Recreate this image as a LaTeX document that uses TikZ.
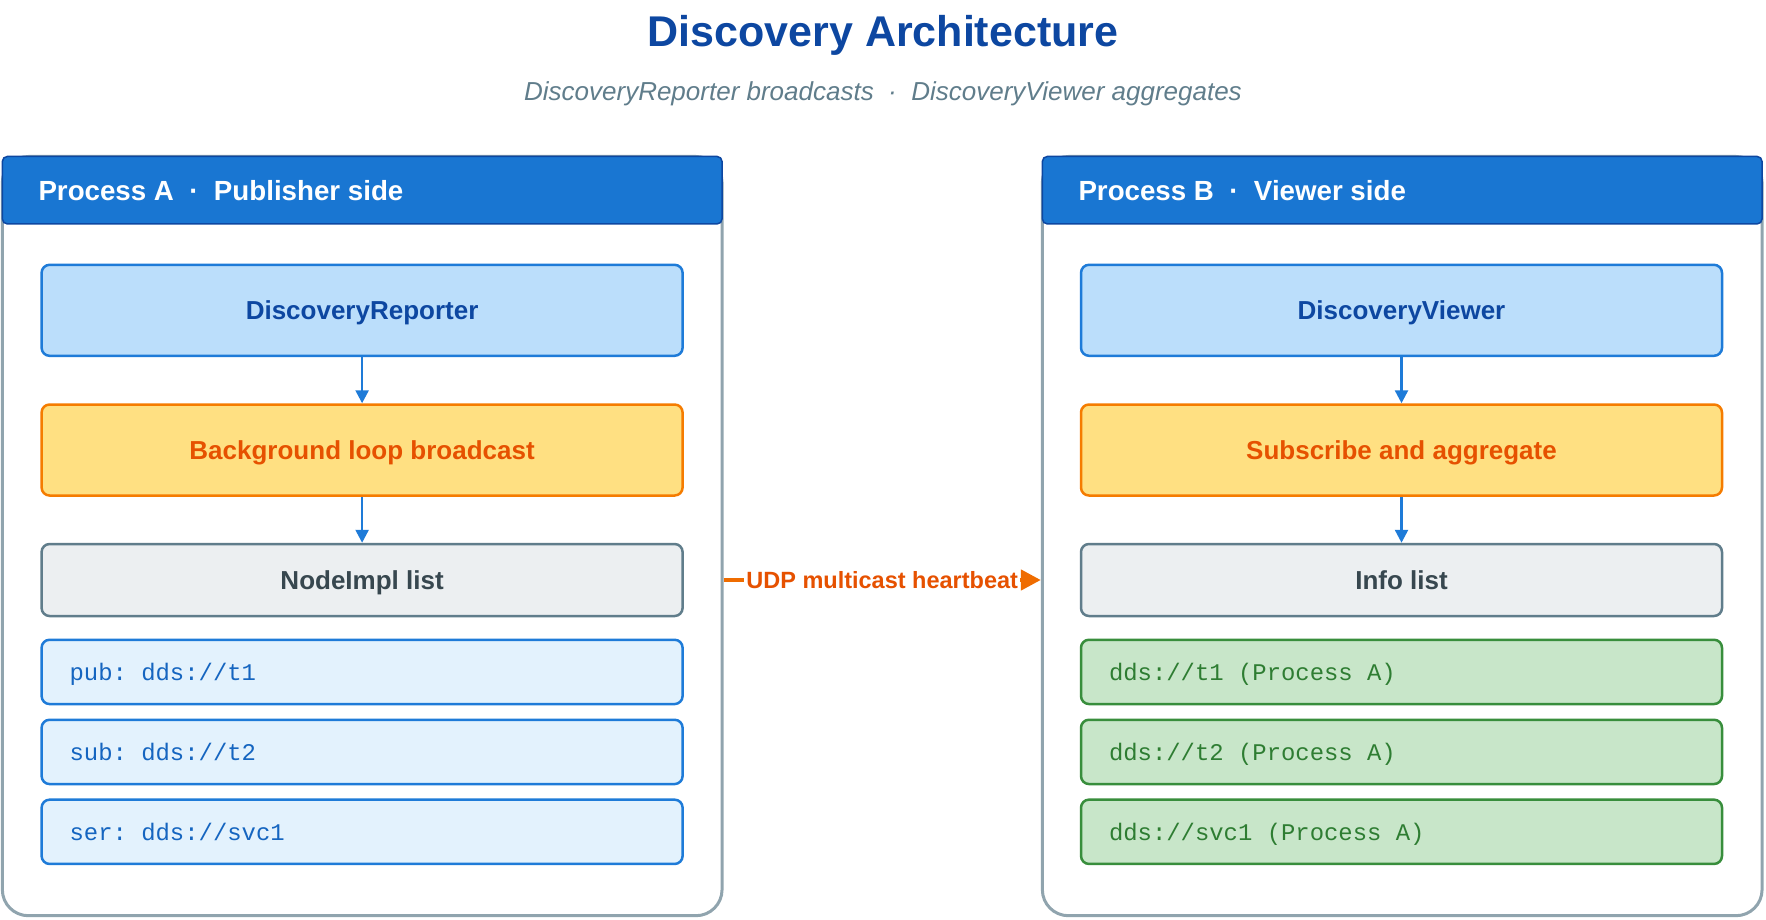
\documentclass[tikz,border=0pt]{standalone}
\usepackage{fontspec}
\setmainfont{Liberation Sans}
\setmonofont{Liberation Mono}
\usetikzlibrary{arrows.meta}
\definecolor{titlec}{HTML}{0D47A1}
\definecolor{subc}{HTML}{607D8B}
\definecolor{panelbd}{HTML}{90A4AE}
\definecolor{hdrfill}{HTML}{1976D2}
\definecolor{hdrbd}{HTML}{0D47A1}
\definecolor{compfill}{HTML}{BBDEFB}
\definecolor{compbd}{HTML}{1E7BD8}
\definecolor{loopfill}{HTML}{FFE082}
\definecolor{loopbd}{HTML}{F57C00}
\definecolor{looptext}{HTML}{E65100}
\definecolor{listfill}{HTML}{ECEFF1}
\definecolor{listbd}{HTML}{607D8B}
\definecolor{listtext}{HTML}{37474F}
\definecolor{pubfill}{HTML}{E3F2FD}
\definecolor{pubtext}{HTML}{1565C0}
\definecolor{grnfill}{HTML}{C8E6C9}
\definecolor{grnbd}{HTML}{388E3C}
\definecolor{grntext}{HTML}{2E7D32}
\definecolor{udpc}{HTML}{EF6C00}
\definecolor{udptext}{HTML}{E65100}
\newcommand{\msp}{\hspace*{0.6em}}
\begin{document}
\begin{tikzpicture}[x=1pt,y=-1pt,
  panel/.style={draw=panelbd, line width=3pt, fill=white, rounded corners=26pt, minimum width=719.7pt, minimum height=759.2pt, inner sep=0pt},
  hdr/.style={draw=hdrbd, line width=1.5pt, fill=hdrfill, rounded corners=5pt, minimum width=719.7pt, minimum height=67.5pt, inner sep=0pt},
  hdrtext/.style={anchor=west, text=white, inner sep=0pt, text depth=0pt, font=\fontsize{27.7}{32}\selectfont\bfseries},
  box/.style={line width=2.5pt, rounded corners=8pt, minimum width=641pt, inner sep=0pt, text depth=0pt, font=\fontsize{26}{30}\selectfont\bfseries},
  comp/.style={box, draw=compbd, fill=compfill, text=titlec, minimum height=91pt},
  loopbox/.style={box, draw=loopbd, fill=loopfill, text=looptext, minimum height=91pt},
  listbox/.style={box, draw=listbd, fill=listfill, text=listtext, minimum height=72pt},
  item/.style={line width=2.5pt, rounded corners=8pt, text width=585pt, inner xsep=28pt, inner ysep=0pt, text depth=0pt, align=left, minimum height=64.3pt, font=\fontsize{23.9}{28}\selectfont\ttfamily},
  pubitem/.style={item, draw=compbd, fill=pubfill, text=pubtext},
  grnitem/.style={item, draw=grnbd, fill=grnfill, text=grntext},
  flow/.style={draw=compbd, line width=2.5pt, -{Triangle[length=13pt,width=13pt]}},
  udp/.style={draw=udpc, line width=4.5pt, -{Triangle[length=20pt,width=20pt]}},
  udplabel/.style={fill=white, text=udptext, inner xsep=2pt, inner ysep=0pt, text depth=0pt, font=\fontsize{23.5}{28}\selectfont\bfseries}
]
\useasboundingbox (0,0) rectangle (1766,920);
% title
\node[text=titlec, text depth=0pt, font=\fontsize{43}{50}\selectfont\bfseries] (title) at (883,31) {Discovery Architecture};
\node[text=subc, text depth=0pt, font=\fontsize{26}{30}\selectfont\itshape] (sub) at (883,91) {DiscoveryReporter broadcasts~~·~~DiscoveryViewer aggregates};
% panels
\node[panel] (pA) at (362.2,536.1) {};
\node[panel] (pB) at (1402.2,536.1) {};
\node[hdr] (hA) at (362.2,190.2) {};
\node[hdr] (hB) at (1402.2,190.2) {};
\node[hdrtext] (tA) at (38.3,190.2) {Process A~~·~~Publisher side};
\node[hdrtext] (tB) at (1078.3,190.2) {Process B~~·~~Viewer side};
% left column
\node[comp] (rep) at (362.1,310.3) {DiscoveryReporter};
\node[loopbox] (bg) at (362.1,450) {Background loop broadcast};
\node[listbox] (ni) at (362.1,580) {NodeImpl list};
\node[pubitem] (p1) at (362.1,671.9) {pub:\msp dds://t1};
\node[pubitem] (p2) at (362.1,751.9) {sub:\msp dds://t2};
\node[pubitem] (p3) at (362.1,831.8) {ser:\msp dds://svc1};
% right column
\node[comp] (view) at (1401.5,310.3) {DiscoveryViewer};
\node[loopbox] (sa) at (1401.5,450) {Subscribe and aggregate};
\node[listbox] (il) at (1401.5,580) {Info list};
\node[grnitem] (g1) at (1401.5,671.9) {dds://t1\msp(Process\msp A)};
\node[grnitem] (g2) at (1401.5,751.9) {dds://t2\msp(Process\msp A)};
\node[grnitem] (g3) at (1401.5,831.8) {dds://svc1\msp(Process\msp A)};
% arrows
\draw[flow] (rep) -- (bg);
\draw[flow] (bg) -- (ni);
\draw[flow] (view) -- (sa);
\draw[flow] (sa) -- (il);
\draw[udp] (pA.east |- ni.east) -- (pB.west |- il.west) node[midway, udplabel] {UDP multicast heartbeat};
\end{tikzpicture}
\end{document}
